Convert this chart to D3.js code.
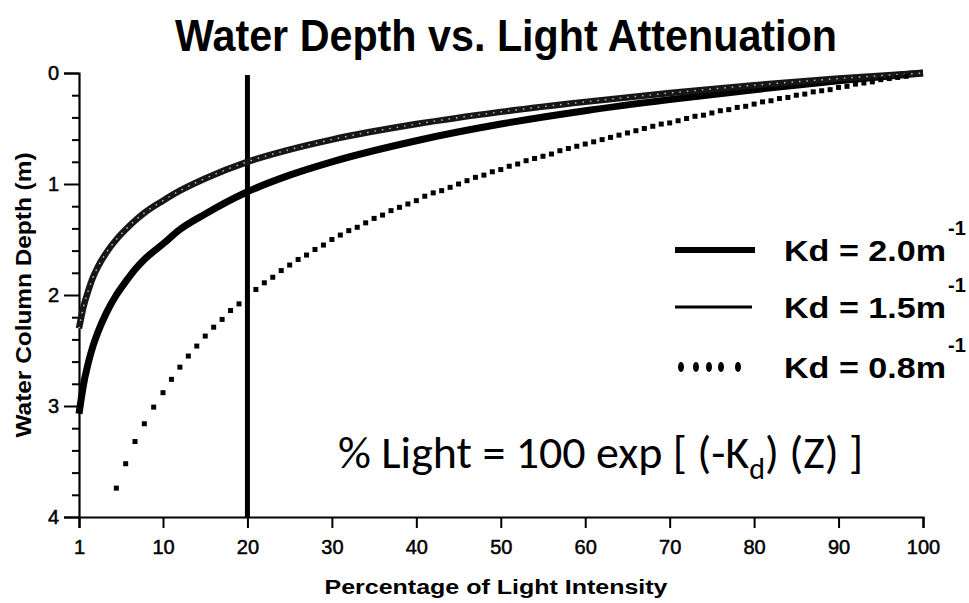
<!DOCTYPE html>
<html>
<head>
<meta charset="utf-8">
<script src="https://cdn.jsdelivr.net/npm/d3@7"></script>
<style>
  html, body { margin: 0; padding: 0; background: #fff; }
  svg { display: block; }
</style>
</head>
<body>
<svg id="chart" width="969" height="603"></svg>
<script>
// ---------------- DATA ----------------
const chartTitle = "Water Depth vs. Light Attenuation";
const xLabel = "Percentage of Light Intensity";
const yLabel = "Water Column Depth (m)";
const xTickValues = [1, 10, 20, 30, 40, 50, 60, 70, 80, 90, 100];
const yTickValues = [0, 1, 2, 3, 4];
const yMinorTickValues = [0.2,0.4,0.6,0.8,1.2,1.4,1.6,1.8,2.2,2.4,2.6,2.8,3.2,3.4,3.6,3.8];
const referenceLight = 20; // vertical marker line

// light (%) sample positions for the two solid curves
const curveLight = [1, 1.5, 2, 2.5, 3, 4, 5, 6, 7, 8, 10, 12, 15, 20, 25, 30, 40, 50, 60, 70, 80, 90, 100];
// upper (speckled) curve depth, m
const upperDepth = [2.30, 2.10, 1.96, 1.84, 1.75, 1.61, 1.50, 1.41, 1.33, 1.26, 1.15, 1.06, 0.95, 0.80, 0.69, 0.60, 0.46, 0.35, 0.26, 0.18, 0.11, 0.05, 0.00];
// lower (solid black) curve depth, m
const lowerDepth = [3.07, 2.80, 2.61, 2.46, 2.34, 2.15, 2.00, 1.88, 1.77, 1.68, 1.54, 1.41, 1.27, 1.07, 0.92, 0.80, 0.61, 0.46, 0.34, 0.24, 0.15, 0.07, 0.00];

// dotted curve: one dot per light percentage from 5 to 98
const dotStart = 5;
const dotDepth = [3.74,3.52,3.32,3.16,3.01,2.88,2.76,2.65,2.55,2.46,2.37,2.29,2.22,2.14,2.08,2.01,1.95,1.89,1.84,1.78,
  1.73,1.68,1.64,1.59,1.55,1.50,1.46,1.42,1.39,1.35,1.31,1.28,1.24,1.21,1.18,1.15,1.11,1.08,1.06,1.03,
  1.00,0.97,0.94,0.92,0.89,0.87,0.84,0.82,0.79,0.77,0.75,0.73,0.70,0.68,0.66,0.64,0.62,0.60,0.58,0.56,
  0.54,0.52,0.50,0.48,0.46,0.45,0.43,0.41,0.39,0.38,0.36,0.34,0.33,0.31,0.30,0.28,0.26,0.25,0.23,0.22,
  0.20,0.19,0.17,0.16,0.15,0.13,0.12,0.10,0.09,0.08,0.06,0.05,0.04,0.03];

const legendLabels = ["Kd = 2.0m", "Kd = 1.5m", "Kd = 0.8m"];
const legendSup = "-1";
const formulaParts = ["% Light = 100 exp [ (-K", "d", ") (Z) ]"];

// ---------------- LAYOUT ----------------
const svg = d3.select("#chart");
const x = d3.scaleLinear().domain([1, 10, 100]).range([79, 163, 923]);
const y = d3.scaleLinear().domain([0, 4]).range([73, 517]);
const FONT = "'Liberation Sans', Arial, Helvetica, sans-serif";
const NARROW = "'Liberation Sans Narrow', 'Liberation Sans', Arial, sans-serif";

// title
svg.append("text")
  .attr("x", 506).attr("y", 51)
  .attr("text-anchor", "middle")
  .attr("font-family", NARROW).attr("font-weight", "bold")
  .attr("font-size", 45)
  .attr("textLength", 662).attr("lengthAdjust", "spacingAndGlyphs")
  .text(chartTitle);

// axes
const gx = svg.append("g").attr("transform", `translate(0,${y(4)})`)
  .call(d3.axisBottom(x).tickValues(xTickValues).tickSize(11).tickPadding(12).tickFormat(d3.format("d")));
const gy = svg.append("g").attr("transform", `translate(${x(1)},0)`)
  .call(d3.axisLeft(y).tickValues(yTickValues).tickSize(15).tickPadding(5).tickFormat(d3.format("d")));
const gym = svg.append("g").attr("transform", `translate(${x(1)},0)`)
  .call(d3.axisLeft(y).tickValues(yMinorTickValues).tickSize(7).tickFormat(""));

[gx, gy, gym].forEach(g => {
  g.select(".domain").attr("stroke", "#000").attr("stroke-width", 2.2);
  g.selectAll(".tick line").attr("stroke", "#000").attr("stroke-width", 2);
  g.selectAll(".tick text").attr("font-family", FONT).attr("fill", "#000")
    .attr("stroke", "#000").attr("stroke-width", 0.5);
});
gym.select(".domain").remove();
gx.selectAll(".tick text").attr("font-size", 20);
gy.selectAll(".tick text").attr("font-size", 20);

// axis labels
svg.append("text")
  .attr("x", 496).attr("y", 594)
  .attr("text-anchor", "middle")
  .attr("font-family", NARROW).attr("font-weight", "bold").attr("font-size", 20)
  .attr("textLength", 343).attr("lengthAdjust", "spacingAndGlyphs")
  .text(xLabel);
svg.append("text")
  .attr("transform", "translate(31,295) rotate(-90)")
  .attr("text-anchor", "middle")
  .attr("font-family", NARROW).attr("font-weight", "bold").attr("font-size", 22)
  .attr("textLength", 285).attr("lengthAdjust", "spacingAndGlyphs")
  .text(yLabel);

// vertical reference line at 20%
svg.append("line")
  .attr("x1", x(referenceLight)).attr("x2", x(referenceLight))
  .attr("y1", y(0) + 2).attr("y2", y(4))
  .attr("stroke", "#000").attr("stroke-width", 5);

// curves
const line = d3.line().x(d => x(d[0])).y(d => y(d[1])).curve(d3.curveMonotoneX);
const upperPts = curveLight.map((l, i) => [l, upperDepth[i]]);
const lowerPts = curveLight.map((l, i) => [l, lowerDepth[i]]);

svg.append("path").datum(lowerPts)
  .attr("d", line).attr("fill", "none")
  .attr("stroke", "#000").attr("stroke-width", 7).attr("stroke-linecap", "butt");

svg.append("path").datum(upperPts)
  .attr("d", line).attr("fill", "none")
  .attr("stroke", "#161616").attr("stroke-width", 6.5).attr("stroke-linecap", "butt");
svg.append("path").datum(upperPts)
  .attr("d", line).attr("fill", "none")
  .attr("stroke", "#fff").attr("stroke-width", 1.4).attr("stroke-opacity", 0.75)
  .attr("stroke-dasharray", "1.5 6");

// dotted series
const dotPts = dotDepth.map((d, i) => [dotStart + i, d]);
svg.append("g").selectAll("rect").data(dotPts).join("rect")
  .attr("x", d => x(d[0]) - 2.5).attr("y", d => y(d[1]) - 2.5)
  .attr("width", 5).attr("height", 5).attr("fill", "#000");

// legend
const legendY = [250, 307, 367];
const lg = svg.append("g");
lg.append("line").attr("x1", 675).attr("x2", 755).attr("y1", legendY[0]).attr("y2", legendY[0])
  .attr("stroke", "#000").attr("stroke-width", 6);
lg.append("line").attr("x1", 675).attr("x2", 752).attr("y1", legendY[1]).attr("y2", legendY[1])
  .attr("stroke", "#000").attr("stroke-width", 3);
lg.selectAll("ellipse").data([681, 696, 709, 721, 738]).join("ellipse")
  .attr("cx", d => d).attr("cy", legendY[2]).attr("rx", 3).attr("ry", 5).attr("fill", "#000");

legendLabels.forEach((t, i) => {
  const tx = lg.append("text")
    .attr("x", 784).attr("y", legendY[i] + 11)
    .attr("font-family", NARROW).attr("font-weight", "bold").attr("font-size", 30)
    .attr("fill", "#000");
  tx.append("tspan").attr("textLength", 162).attr("lengthAdjust", "spacingAndGlyphs").text(t);
  lg.append("text")
    .attr("x", 948).attr("y", legendY[i] - 15)
    .attr("font-family", FONT).attr("font-weight", "bold").attr("font-size", 20)
    .attr("fill", "#000").text(legendSup);
});

// formula annotation
const ft = svg.append("text")
  .attr("x", 338).attr("y", 468)
  .attr("font-family", "Carlito, Lato, 'Open Sans', sans-serif").attr("font-size", 46)
  .attr("fill", "#000");
ft.append("tspan").text(formulaParts[0]);
ft.append("tspan").attr("font-size", 30).attr("dy", 11).text(formulaParts[1]);
ft.append("tspan").attr("dy", -11).text(formulaParts[2]);
</script>
</body>
</html>
